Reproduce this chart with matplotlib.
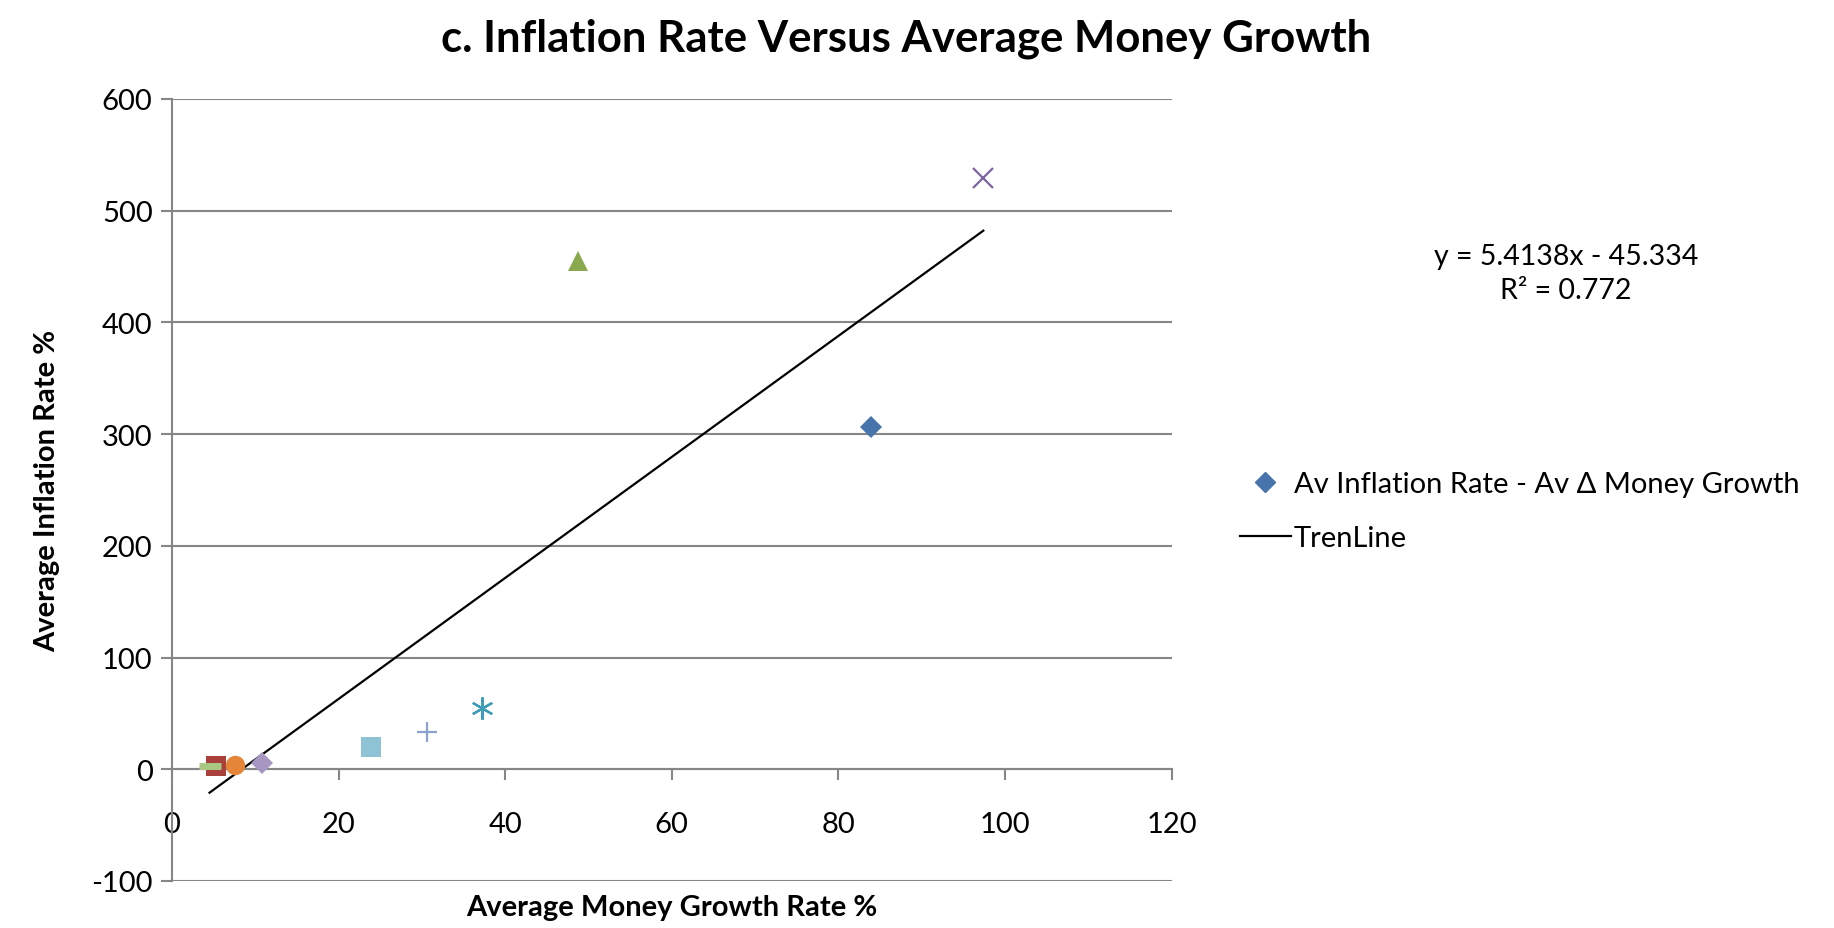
import matplotlib
matplotlib.use('Agg')
import matplotlib.pyplot as plt
from matplotlib.lines import Line2D

plt.rcParams['font.family'] = ['Lato', 'DejaVu Sans']
plt.rcParams['axes.unicode_minus'] = False

# average money growth (%) and average inflation (%) per country
money_growth = [83.9, 5.3, 48.7, 97.4, 37.2, 7.6, 30.6, 4.5, 10.8, 23.9]
inflation = [306, 3, 455, 529, 55, 4, 33, 3, 6, 20]

# fitted trend line as printed on the chart
slope, intercept = 5.4138, -45.334
r2 = 0.772

x_ticks = [0, 20, 40, 60, 80, 100, 120]
y_ticks = [-100, 0, 100, 200, 300, 400, 500, 600]

# excel "vary colours by point" styles
markers = ['D', 's', '^', 'x', (6, 2, 0), 'o', '+', '_', 'D', 's']
colors = ['#4674AB', '#A9403C', '#8AA84E', '#7D63A0', '#3E9DB8',
          '#E5853A', '#8CA3D2', '#A9C882', '#A796C2', '#8DC3D5']
sizes = [11, 14, 15, 14, 16, 14, 14, 16, 11, 14]

fig = plt.figure(figsize=(18.34, 9.29), dpi=100)
ax = fig.add_axes([0.0938, 0.0506, 0.545, 0.842])

for x, y, m, c, s in zip(money_growth, inflation, markers, colors, sizes):
    line_marker = m in ('x', '+', '_') or isinstance(m, tuple)
    ax.plot([x], [y], linestyle='none', marker=m, color=c, markersize=s,
            markeredgewidth=5 if m == '_' else (1.6 if line_marker else 0),
            zorder=3)

xs = [min(money_growth), max(money_growth)]
ax.plot(xs, [slope * v + intercept for v in xs], color='black', lw=1.6, zorder=2)

ax.set_xlim(0, 120)
ax.set_ylim(-100, 600)
ax.set_xticks(x_ticks)
ax.set_yticks(y_ticks)
ax.tick_params(labelsize=21, color='#868686', length=8, width=1.5)
ax.tick_params(axis='x', direction='out', pad=22)
ax.tick_params(axis='y', pad=6)
ax.yaxis.grid(True, color='#868686', lw=1.5)
ax.set_axisbelow(True)
for side in ('top', 'right'):
    ax.spines[side].set_visible(False)
ax.spines['bottom'].set_position(('data', 0))
for side in ('bottom', 'left'):
    ax.spines[side].set_color('#868686')
    ax.spines[side].set_linewidth(1.5)

ax.set_xlabel('Average Money Growth Rate %', fontsize=21, fontweight='bold', va='center')
ax.xaxis.set_label_coords(0.5, -0.033)
ax.set_ylabel('Average Inflation Rate %', fontsize=21, fontweight='bold', va='center')
ax.yaxis.set_label_coords(-0.125, 0.5)

fig.text(0.494, 0.958, 'c. Inflation Rate Versus Average Money Growth',
         ha='center', va='center', fontsize=31.5, fontweight='bold')

fig.text(0.854, 0.705, 'y = 5.4138x - 45.334\nR² = 0.772', ha='center',
         va='center', fontsize=20.5, linespacing=1.35)

handles = [Line2D([], [], linestyle='none', marker='D', color=colors[0], markersize=10),
           Line2D([], [], color='black', lw=1.6)]
fig.legend(handles, ['Av Inflation Rate - Av Δ Money Growth', 'TrenLine'],
           loc='center left', bbox_to_anchor=(0.676, 0.449), frameon=False,
           fontsize=21, handlelength=1.75, handletextpad=0.1, labelspacing=0.95,
           borderpad=0, borderaxespad=0)

fig.savefig('out.png', dpi=100)
